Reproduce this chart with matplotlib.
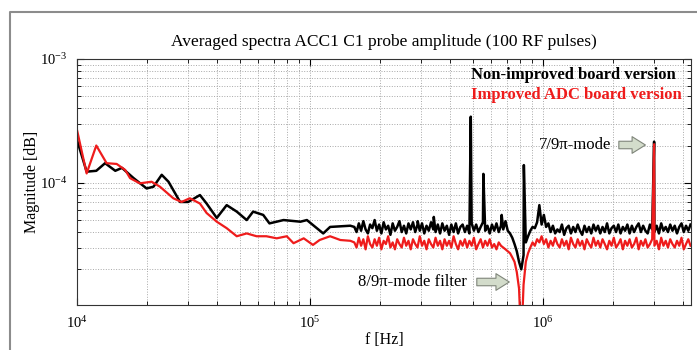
import numpy as np
import matplotlib
matplotlib.use('Agg')
from matplotlib import pyplot as plt
from matplotlib.lines import Line2D

plt.rcParams['font.family'] = ['Liberation Serif', 'DejaVu Serif']
plt.rcParams['mathtext.fontset'] = 'stix'

# low frequency part (read point by point), magnitudes in 1e-5
black_low_f = [1.00e4, 1.10e4, 1.21e4, 1.32e4, 1.46e4, 1.56e4, 1.75e4, 1.99e4, 2.13e4, 2.31e4,
               2.47e4, 2.77e4, 3.00e4, 3.37e4, 3.60e4, 3.98e4, 4.39e4, 4.85e4, 5.35e4, 5.70e4,
               6.30e4, 6.70e4, 7.70e4, 9.10e4, 9.70e4, 1.07e5, 1.14e5, 1.22e5, 1.49e5]
black_low_m = [22.2, 12.3, 12.5, 14.4, 12.5, 13.2, 10.9, 9.0, 9.3, 11.6,
               10.2, 7.0, 7.0, 7.96, 6.8, 5.2, 6.6, 5.85, 5.0, 5.85,
               5.5, 4.7, 5.0, 4.85, 5.0, 4.3, 3.9, 4.4, 4.5]

red_low_f = [1.00e4, 1.10e4, 1.21e4, 1.34e4, 1.48e4, 1.61e4, 1.69e4, 1.86e4, 2.09e4, 2.27e4,
             2.59e4, 2.81e4, 3.05e4, 3.37e4, 3.60e4, 3.98e4, 4.39e4, 4.85e4, 5.35e4, 5.90e4,
             6.50e4, 7.20e4, 7.95e4, 8.50e4, 9.40e4, 1.03e5, 1.10e5, 1.22e5, 1.35e5, 1.49e5]
red_low_m = [26.7, 11.9, 20.0, 14.4, 14.2, 12.7, 10.9, 9.9, 10.2, 9.3,
             7.5, 7.0, 7.5, 6.8, 5.7, 4.85, 4.3, 3.7, 3.9, 3.7,
             3.7, 3.56, 3.7, 3.25, 3.56, 3.15, 3.45, 3.7, 3.45, 3.4]

# high frequency noise floor, 150 samples from 1.55e5 Hz to 4.3e6 Hz, in 1e-5
noise_f_start, noise_f_stop = 1.55e5, 4.3e6
black_noise_m = [4.4, 4.0, 4.7, 4.1, 4.9, 4.2, 3.9, 4.6, 4.3, 5.0,
                 4.1, 4.6, 3.9, 4.8, 4.2, 4.5, 3.8, 4.7, 4.1, 4.4,
                 4.9, 4.0, 4.5, 3.9, 4.7, 4.2, 4.8, 4.0, 4.6, 4.1,
                 4.7, 3.9, 4.5, 4.1, 4.8, 4.2, 4.0, 4.6, 3.9, 4.7,
                 4.1, 4.5, 3.8, 4.6, 4.0, 4.7, 3.9, 4.4, 4.6, 4.0,
                 4.5, 3.9, 4.7, 4.1, 4.6, 4.0, 4.4, 4.8, 4.1, 4.5,
                 3.9, 4.6, 4.1, 4.7, 4.0, 4.5, 4.2, 4.9, 4.1, 3.9,
                 3.6, 3.2, 2.8, 2.3, 2.0, 2.6, 3.3, 3.7, 4.1, 4.4,
                 4.3, 4.8, 6.6, 4.6, 5.5, 4.4, 4.7, 4.0, 4.5, 3.9,
                 4.2, 4.0, 4.6, 3.8, 4.3, 4.5, 3.9, 4.4, 4.0, 4.6,
                 4.1, 3.8, 4.5, 4.0, 4.4, 3.9, 4.6, 4.1, 4.5, 3.9,
                 4.4, 4.0, 4.7, 3.9, 4.3, 4.5, 4.0, 4.6, 3.9, 4.4,
                 4.1, 4.6, 3.9, 4.5, 4.0, 4.4, 4.7, 4.0, 4.5, 4.1,
                 3.9, 4.6, 4.2, 4.0, 4.5, 3.9, 4.7, 4.1, 4.4, 4.0,
                 4.6, 4.1, 4.5, 3.9, 4.4, 4.7, 4.0, 4.5, 4.1, 4.6]
red_noise_m = [3.3, 3.0, 3.6, 3.1, 3.5, 2.9, 3.7, 3.2, 3.0, 3.5,
               3.1, 3.6, 2.9, 3.4, 3.2, 3.7, 3.0, 3.3, 2.9, 3.5,
               3.2, 3.0, 3.6, 3.1, 3.4, 2.9, 3.5, 3.2, 3.0, 3.7,
               3.1, 3.4, 2.9, 3.5, 3.2, 3.0, 3.6, 3.1, 3.4, 2.9,
               3.5, 3.1, 3.4, 3.0, 3.7, 3.2, 2.9, 3.4, 3.1, 3.5,
               3.0, 3.4, 3.1, 3.6, 2.9, 3.2, 3.5, 3.0, 3.4, 3.1,
               3.5, 3.0, 3.2, 2.9, 3.3, 3.1, 3.0, 2.9, 2.8, 2.7,
               2.5, 2.3, 1.9, 1.4, 0.5, 1.5, 2.3, 2.7, 3.0, 3.3,
               3.1, 3.5, 3.3, 3.7, 3.2, 3.5, 3.0, 3.4, 3.1, 3.6,
               3.2, 3.0, 3.5, 3.1, 3.4, 2.9, 3.6, 3.2, 3.0, 3.5,
               3.1, 3.4, 2.9, 3.5, 3.2, 3.0, 3.6, 3.1, 3.4, 3.0,
               3.5, 3.2, 2.9, 3.4, 3.1, 3.6, 3.0, 3.2, 3.5, 2.9,
               3.4, 3.1, 3.5, 3.0, 3.2, 3.6, 2.9, 3.4, 3.1, 3.5,
               3.0, 3.2, 3.5, 3.1, 3.4, 2.9, 3.6, 3.1, 3.4, 3.0,
               3.5, 3.2, 3.0, 3.4, 3.1, 3.6, 2.9, 3.2, 3.5, 3.1]

# narrow spectral lines
black_peak_f = [2.9e5, 3.4e5, 4.9e5, 5.55e5, 6.65e5, 8.28e5, 3.0e6]
black_peak_m = [4.9e-5, 5.3e-5, 3.42e-4, 1.18e-4, 5.5e-5, 1.39e-4, 2.15e-4]
red_peak_f = [3.0e6]
red_peak_m = [2.05e-4]


def build(low_f, low_m, noise_m, peak_f, peak_m):
    noise_f = np.geomspace(noise_f_start, noise_f_stop, len(noise_m))
    f = np.concatenate([low_f, noise_f, peak_f])
    m = np.concatenate([np.array(low_m) * 1e-5, np.array(noise_m) * 1e-5, peak_m])
    order = np.argsort(f)
    return f[order], m[order]


fb, mb = build(black_low_f, black_low_m, black_noise_m, black_peak_f, black_peak_m)
fr, mr = build(red_low_f, red_low_m, red_noise_m, red_peak_f, red_peak_m)

fig = plt.figure(figsize=(6.97, 3.5), dpi=100)
fig.subplots_adjust(left=77 / 697, right=691 / 697, top=1 - 59 / 350, bottom=1 - 305 / 350)
ax = fig.add_subplot(111)

l1, = ax.plot(fb, mb, color='black', lw=1.8, label='Non-improved board version')
l2, = ax.plot(fr, mr, color='#ee1c1c', lw=1.6, label='Improved ADC board version')

ax.set_xscale('log')
ax.set_yscale('log')
ax.set_xlim(1e4, 4.32e6)
ax.set_ylim(1.03e-5, 1e-3)
ax.grid(True, which='both', linestyle=':', color='#a8a8a8', linewidth=0.7)
ax.tick_params(which='both', direction='in', top=True, right=True, labelsize=10.5, pad=7)
ax.tick_params(which='major', length=5)
ax.tick_params(which='minor', length=3)
for s in ax.spines.values():
    s.set_color('#333333')

ax.set_title('Averaged spectra ACC1 C1 probe amplitude (100 RF pulses)', fontsize=12.5, pad=9)
ax.set_xlabel('f [Hz]', fontsize=11.5, labelpad=1)
ax.set_ylabel('Magnitude [dB]', fontsize=11.5, labelpad=0)

ax.legend(handles=[l1, l2], loc='upper right', bbox_to_anchor=(1.004, 1.014), frameon=False,
          handlelength=0, handletextpad=0, labelcolor='linecolor', borderpad=0.2, labelspacing=0.2,
          prop={'family': 'Liberation Serif', 'weight': 'bold', 'size': 12})

arrow = dict(arrowstyle='simple,head_length=0.8,head_width=1.0,tail_width=0.45',
             fc='#d3dccb', ec='#7f857a', lw=0.8, mutation_scale=12)
ax.text(1.96e6, 2.02e-4, '7/9π-mode', ha='right', va='center', fontsize=12)
ax.annotate('', xy=(2.83e6, 2.02e-4), xytext=(2.06e6, 2.02e-4), arrowprops=arrow)
ax.text(4.72e5, 1.58e-5, '8/9π-mode filter', ha='right', va='center', fontsize=12)
ax.annotate('', xy=(7.37e5, 1.58e-5), xytext=(5.06e5, 1.58e-5), arrowprops=arrow)

# page frame around the figure
fig.add_artist(Line2D([10 / 697, 10 / 697, 1], [0, 1 - 12 / 350, 1 - 12 / 350],
                      transform=fig.transFigure, color='#8c8c8c', lw=1.5))

fig.savefig('out.png', dpi=100)
